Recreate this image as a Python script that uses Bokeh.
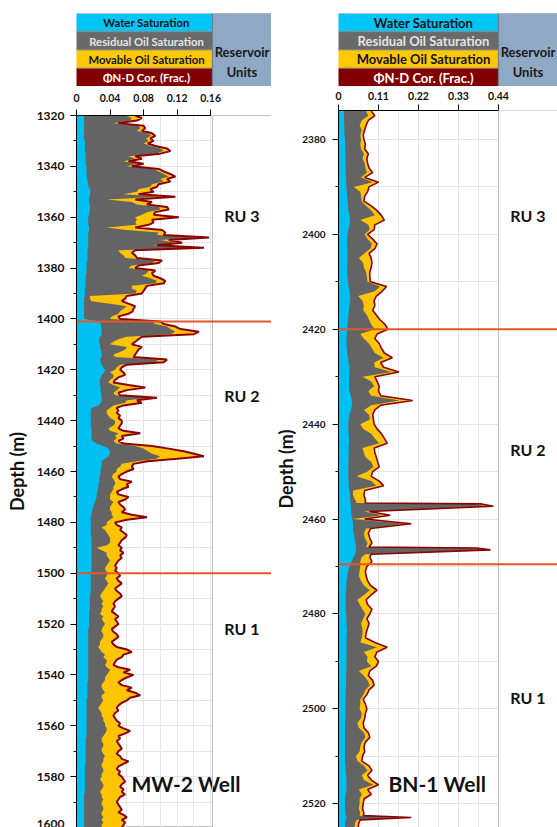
from bokeh.plotting import figure
from bokeh.models import Range1d, FixedTicker, NumeralTickFormatter, Span, BoxAnnotation
from bokeh.layouts import row, column
from bokeh.embed import file_html
from bokeh.resources import INLINE
from bokeh.core.properties import value

FONT = "Lato"

# ---------------- MW-2 well (1 m sampling) ----------------
mw2_depth = list(range(1320, 1601))
mw2_phi = [
    0.070, 0.078, 0.072, 0.050, 0.080, 0.082, 0.078, 0.090, 0.094, 0.088,  # 1320
    0.092, 0.085, 0.094, 0.108, 0.112, 0.100, 0.070, 0.078, 0.062, 0.080,  # 1330
    0.066, 0.098, 0.104, 0.112, 0.118, 0.108, 0.112, 0.098, 0.096, 0.088,  # 1340
    0.092, 0.074, 0.118, 0.070, 0.090, 0.084, 0.108, 0.110, 0.094, 0.092,  # 1350
    0.122, 0.090, 0.092, 0.086, 0.070, 0.102, 0.106, 0.104, 0.158, 0.110,  # 1360
    0.126, 0.096, 0.152, 0.070, 0.066, 0.070, 0.072, 0.102, 0.098, 0.074,  # 1370
    0.070, 0.094, 0.090, 0.092, 0.100, 0.106, 0.104, 0.084, 0.082, 0.080,  # 1380
    0.078, 0.060, 0.058, 0.054, 0.062, 0.070, 0.068, 0.067, 0.062, 0.050,  # 1390
    0.052, 0.100, 0.104, 0.118, 0.124, 0.146, 0.140, 0.078, 0.074, 0.070,  # 1400
    0.066, 0.078, 0.074, 0.072, 0.070, 0.068, 0.108, 0.104, 0.060, 0.054,  # 1410
    0.052, 0.056, 0.058, 0.050, 0.046, 0.044, 0.062, 0.082, 0.060, 0.050,  # 1420
    0.052, 0.096, 0.072, 0.078, 0.056, 0.048, 0.050, 0.048, 0.052, 0.050,  # 1430
    0.054, 0.054, 0.052, 0.050, 0.056, 0.076, 0.054, 0.056, 0.050, 0.056,  # 1440
    0.090, 0.110, 0.128, 0.140, 0.152, 0.120, 0.085, 0.068, 0.066, 0.068,  # 1450
    0.060, 0.054, 0.050, 0.052, 0.066, 0.060, 0.062, 0.054, 0.048, 0.050,  # 1460
    0.062, 0.058, 0.050, 0.052, 0.056, 0.058, 0.054, 0.066, 0.084, 0.060,  # 1470
    0.046, 0.048, 0.054, 0.052, 0.056, 0.060, 0.058, 0.054, 0.052, 0.050,  # 1480
    0.054, 0.052, 0.056, 0.052, 0.054, 0.050, 0.048, 0.046, 0.048, 0.046,  # 1490
    0.050, 0.052, 0.048, 0.050, 0.054, 0.050, 0.046, 0.048, 0.052, 0.054,  # 1500
    0.050, 0.046, 0.044, 0.046, 0.044, 0.042, 0.046, 0.050, 0.046, 0.048,  # 1510
    0.050, 0.046, 0.042, 0.044, 0.048, 0.050, 0.046, 0.042, 0.044, 0.048,  # 1520
    0.060, 0.066, 0.056, 0.054, 0.048, 0.046, 0.044, 0.050, 0.064, 0.056,  # 1530
    0.068, 0.060, 0.054, 0.050, 0.054, 0.066, 0.060, 0.070, 0.076, 0.064,  # 1540
    0.060, 0.054, 0.050, 0.048, 0.050, 0.046, 0.044, 0.046, 0.048, 0.052,  # 1550
    0.050, 0.056, 0.064, 0.058, 0.050, 0.052, 0.048, 0.050, 0.052, 0.054,  # 1560
    0.050, 0.048, 0.052, 0.054, 0.062, 0.056, 0.050, 0.048, 0.052, 0.050,  # 1570
    0.054, 0.056, 0.058, 0.054, 0.052, 0.056, 0.054, 0.058, 0.052, 0.050,  # 1580
    0.048, 0.050, 0.052, 0.054, 0.050, 0.056, 0.060, 0.054, 0.058, 0.056,  # 1590
    0.054,                                                                  # 1600
]
mw2_ror = [
    0.058, 0.066, 0.064, 0.044, 0.074, 0.076, 0.072, 0.085, 0.089, 0.083,  # 1320
    0.086, 0.080, 0.088, 0.100, 0.104, 0.094, 0.062, 0.070, 0.056, 0.072,  # 1330
    0.060, 0.092, 0.098, 0.104, 0.110, 0.100, 0.104, 0.090, 0.088, 0.074,  # 1340
    0.072, 0.056, 0.100, 0.036, 0.066, 0.072, 0.098, 0.100, 0.084, 0.078,  # 1350
    0.070, 0.072, 0.070, 0.072, 0.036, 0.060, 0.098, 0.096, 0.150, 0.100,  # 1360
    0.118, 0.090, 0.144, 0.050, 0.052, 0.056, 0.058, 0.094, 0.090, 0.066,  # 1370
    0.062, 0.086, 0.084, 0.078, 0.088, 0.096, 0.094, 0.066, 0.066, 0.072,  # 1380
    0.070, 0.016, 0.016, 0.018, 0.040, 0.060, 0.056, 0.052, 0.050, 0.042,  # 1390
    0.040, 0.090, 0.094, 0.108, 0.112, 0.118, 0.112, 0.060, 0.050, 0.044,  # 1400
    0.040, 0.060, 0.058, 0.052, 0.044, 0.046, 0.098, 0.094, 0.052, 0.048,  # 1410
    0.046, 0.040, 0.044, 0.044, 0.040, 0.038, 0.044, 0.052, 0.048, 0.044,  # 1420
    0.046, 0.090, 0.060, 0.058, 0.044, 0.040, 0.036, 0.036, 0.038, 0.040,  # 1430
    0.046, 0.046, 0.044, 0.038, 0.040, 0.050, 0.046, 0.048, 0.044, 0.048,  # 1440
    0.070, 0.080, 0.085, 0.090, 0.100, 0.095, 0.072, 0.054, 0.052, 0.048,  # 1450
    0.048, 0.044, 0.042, 0.044, 0.046, 0.046, 0.044, 0.044, 0.042, 0.040,  # 1460
    0.040, 0.040, 0.044, 0.042, 0.040, 0.040, 0.042, 0.042, 0.044, 0.040,  # 1470
    0.036, 0.036, 0.030, 0.034, 0.036, 0.038, 0.040, 0.040, 0.040, 0.036,  # 1480
    0.024, 0.030, 0.036, 0.036, 0.038, 0.040, 0.038, 0.036, 0.034, 0.035,  # 1490
    0.038, 0.036, 0.034, 0.036, 0.038, 0.036, 0.034, 0.032, 0.030, 0.028,  # 1500
    0.030, 0.032, 0.030, 0.032, 0.030, 0.030, 0.028, 0.032, 0.030, 0.032,  # 1510
    0.034, 0.032, 0.030, 0.030, 0.032, 0.032, 0.030, 0.028, 0.028, 0.026,  # 1520
    0.028, 0.030, 0.034, 0.032, 0.036, 0.036, 0.034, 0.036, 0.040, 0.038,  # 1530
    0.036, 0.034, 0.034, 0.032, 0.030, 0.030, 0.032, 0.034, 0.030, 0.030,  # 1540
    0.032, 0.030, 0.028, 0.026, 0.028, 0.030, 0.030, 0.032, 0.032, 0.034,  # 1550
    0.034, 0.036, 0.036, 0.034, 0.032, 0.030, 0.030, 0.032, 0.032, 0.030,  # 1560
    0.030, 0.032, 0.034, 0.032, 0.032, 0.030, 0.030, 0.032, 0.032, 0.030,  # 1570
    0.030, 0.028, 0.030, 0.032, 0.032, 0.030, 0.028, 0.030, 0.030, 0.032,  # 1580
    0.030, 0.030, 0.032, 0.032, 0.030, 0.030, 0.032, 0.030, 0.032, 0.030,  # 1590
    0.030,                                                                  # 1600
]
mw2_bvw = [
    0.009, 0.009, 0.009, 0.009, 0.009, 0.009, 0.009, 0.009, 0.009, 0.009,  # 1320
    0.010, 0.010, 0.010, 0.010, 0.010, 0.011, 0.011, 0.011, 0.011, 0.011,  # 1330
    0.012, 0.012, 0.012, 0.012, 0.012, 0.013, 0.013, 0.014, 0.014, 0.016,  # 1340
    0.017, 0.016, 0.016, 0.015, 0.015, 0.016, 0.016, 0.016, 0.015, 0.015,  # 1350
    0.014, 0.014, 0.014, 0.014, 0.015, 0.015, 0.014, 0.014, 0.014, 0.014,  # 1360
    0.014, 0.014, 0.014, 0.013, 0.013, 0.013, 0.013, 0.013, 0.012, 0.012,  # 1370
    0.012, 0.012, 0.012, 0.011, 0.011, 0.011, 0.011, 0.011, 0.010, 0.010,  # 1380
    0.010, 0.010, 0.009, 0.009, 0.009, 0.009, 0.009, 0.009, 0.009, 0.009,  # 1390
    0.009, 0.028, 0.029, 0.029, 0.030, 0.030, 0.030, 0.028, 0.027, 0.027,  # 1400
    0.028, 0.028, 0.029, 0.030, 0.030, 0.030, 0.028, 0.029, 0.030, 0.032,  # 1410
    0.034, 0.033, 0.030, 0.029, 0.028, 0.028, 0.028, 0.029, 0.029, 0.029,  # 1420
    0.030, 0.030, 0.030, 0.029, 0.026, 0.018, 0.017, 0.017, 0.017, 0.017,  # 1430
    0.017, 0.017, 0.017, 0.018, 0.018, 0.018, 0.018, 0.018, 0.019, 0.024,  # 1440
    0.032, 0.038, 0.040, 0.040, 0.038, 0.034, 0.030, 0.030, 0.030, 0.029,  # 1450
    0.029, 0.028, 0.028, 0.027, 0.027, 0.026, 0.026, 0.025, 0.025, 0.024,  # 1460
    0.024, 0.023, 0.022, 0.021, 0.020, 0.019, 0.018, 0.018, 0.017, 0.017,  # 1470
    0.017, 0.017, 0.017, 0.017, 0.017, 0.017, 0.018, 0.018, 0.018, 0.018,  # 1480
    0.018, 0.018, 0.018, 0.018, 0.018, 0.018, 0.018, 0.018, 0.018, 0.018,  # 1490
    0.017, 0.017, 0.017, 0.017, 0.017, 0.017, 0.017, 0.017, 0.017, 0.016,  # 1500
    0.016, 0.016, 0.016, 0.016, 0.016, 0.015, 0.015, 0.015, 0.015, 0.015,  # 1510
    0.015, 0.015, 0.014, 0.014, 0.014, 0.014, 0.014, 0.014, 0.014, 0.014,  # 1520
    0.014, 0.014, 0.014, 0.014, 0.014, 0.014, 0.014, 0.014, 0.014, 0.014,  # 1530
    0.014, 0.014, 0.014, 0.013, 0.013, 0.013, 0.013, 0.013, 0.013, 0.013,  # 1540
    0.012, 0.012, 0.012, 0.012, 0.012, 0.012, 0.012, 0.012, 0.012, 0.012,  # 1550
    0.012, 0.012, 0.012, 0.012, 0.012, 0.011, 0.011, 0.011, 0.011, 0.011,  # 1560
    0.011, 0.011, 0.011, 0.011, 0.011, 0.011, 0.010, 0.010, 0.010, 0.010,  # 1570
    0.010, 0.010, 0.010, 0.010, 0.010, 0.010, 0.010, 0.009, 0.009, 0.009,  # 1580
    0.009, 0.009, 0.009, 0.009, 0.009, 0.009, 0.009, 0.009, 0.009, 0.009,  # 1590
    0.009,                                                                  # 1600
]

# ---------------- BN-1 well ----------------
bn1_depth = [
    2374, 2375, 2376, 2377, 2378, 2379, 2380, 2381, 2382, 2383,
    2384, 2385, 2386, 2387, 2388, 2389, 2390, 2391, 2392, 2393,
    2394, 2395, 2396, 2397, 2398, 2399, 2400, 2401, 2402, 2403,
    2404, 2405, 2406, 2407, 2408, 2409, 2410, 2411, 2412, 2413,
    2414, 2415, 2416, 2417, 2418, 2419, 2420, 2421, 2422, 2423,
    2424, 2425, 2426, 2427, 2428, 2429, 2430, 2431, 2432, 2433,
    2434, 2435, 2436, 2437, 2438, 2439, 2440, 2441, 2442, 2443,
    2444, 2445, 2446, 2447, 2448, 2449, 2450, 2451, 2452, 2453,
    2454, 2455, 2456, 2456.6, 2456.8, 2457.3, 2458.4, 2459.2, 2460, 2461,
    2462, 2463, 2464, 2465, 2465.9, 2466.1, 2466.5, 2467.4, 2468, 2469,
    2470, 2471, 2472, 2473, 2474, 2475, 2476, 2477, 2478, 2479,
    2480, 2481, 2482, 2483, 2484, 2485, 2486, 2487, 2488, 2489,
    2490, 2491, 2492, 2493, 2494, 2495, 2496, 2497, 2498, 2499,
    2500, 2501, 2502, 2503, 2504, 2505, 2506, 2507, 2508, 2509,
    2510, 2511, 2512, 2513, 2514, 2515, 2516, 2517, 2518, 2519,
    2520, 2521, 2522, 2522.5, 2522.9, 2523.4, 2524, 2525,
]
bn1_phi = [
    0.090, 0.100, 0.082, 0.076, 0.072, 0.068, 0.070, 0.074, 0.072, 0.082,
    0.078, 0.080, 0.084, 0.094, 0.072, 0.110, 0.084, 0.080, 0.072, 0.070,
    0.090, 0.106, 0.118, 0.126, 0.100, 0.098, 0.080, 0.094, 0.106, 0.100,
    0.084, 0.090, 0.092, 0.090, 0.086, 0.086, 0.088, 0.132, 0.120, 0.104,
    0.098, 0.100, 0.094, 0.104, 0.114, 0.128, 0.136, 0.106, 0.100, 0.112,
    0.118, 0.126, 0.148, 0.116, 0.124, 0.166, 0.100, 0.106, 0.112, 0.110,
    0.116, 0.204, 0.116, 0.100, 0.094, 0.096, 0.098, 0.106, 0.118, 0.126,
    0.134, 0.098, 0.100, 0.104, 0.108, 0.112, 0.094, 0.090, 0.112, 0.124,
    0.072, 0.070, 0.074, 0.074, 0.390, 0.426, 0.085, 0.142, 0.072, 0.200,
    0.088, 0.082, 0.086, 0.092, 0.084, 0.380, 0.418, 0.090, 0.086, 0.092,
    0.078, 0.074, 0.076, 0.080, 0.088, 0.106, 0.090, 0.076, 0.080, 0.092,
    0.086, 0.078, 0.084, 0.080, 0.076, 0.074, 0.100, 0.134, 0.106, 0.100,
    0.110, 0.104, 0.086, 0.082, 0.094, 0.098, 0.084, 0.078, 0.068, 0.074,
    0.078, 0.074, 0.072, 0.068, 0.070, 0.082, 0.086, 0.074, 0.070, 0.072,
    0.066, 0.064, 0.084, 0.092, 0.080, 0.090, 0.110, 0.080, 0.090, 0.070,
    0.068, 0.066, 0.070, 0.068, 0.200, 0.060, 0.056, 0.054,
]
bn1_ror = [
    0.076, 0.082, 0.064, 0.058, 0.064, 0.060, 0.062, 0.060, 0.062, 0.070,
    0.066, 0.072, 0.074, 0.078, 0.062, 0.094, 0.042, 0.060, 0.062, 0.064,
    0.076, 0.090, 0.100, 0.060, 0.082, 0.086, 0.072, 0.080, 0.092, 0.088,
    0.072, 0.056, 0.068, 0.070, 0.076, 0.078, 0.080, 0.114, 0.100, 0.054,
    0.066, 0.070, 0.068, 0.078, 0.084, 0.090, 0.100, 0.060, 0.070, 0.084,
    0.092, 0.100, 0.124, 0.098, 0.100, 0.146, 0.066, 0.090, 0.098, 0.082,
    0.090, 0.168, 0.090, 0.070, 0.084, 0.086, 0.060, 0.068, 0.090, 0.100,
    0.112, 0.066, 0.070, 0.074, 0.090, 0.096, 0.080, 0.050, 0.090, 0.104,
    0.040, 0.040, 0.046, 0.050, 0.375, 0.405, 0.070, 0.120, 0.040, 0.180,
    0.076, 0.070, 0.072, 0.080, 0.076, 0.365, 0.400, 0.074, 0.064, 0.060,
    0.060, 0.058, 0.056, 0.062, 0.070, 0.086, 0.070, 0.052, 0.058, 0.066,
    0.074, 0.068, 0.062, 0.066, 0.066, 0.064, 0.060, 0.106, 0.070, 0.080,
    0.078, 0.090, 0.056, 0.070, 0.080, 0.086, 0.074, 0.068, 0.060, 0.060,
    0.058, 0.064, 0.062, 0.052, 0.056, 0.070, 0.074, 0.064, 0.060, 0.058,
    0.048, 0.052, 0.070, 0.080, 0.064, 0.070, 0.096, 0.056, 0.064, 0.058,
    0.058, 0.056, 0.060, 0.058, 0.190, 0.050, 0.046, 0.044,
]
bn1_bvw = [
    0.015, 0.015, 0.015, 0.016, 0.016, 0.016, 0.018, 0.018, 0.019, 0.019,
    0.019, 0.020, 0.020, 0.020, 0.021, 0.021, 0.022, 0.023, 0.024, 0.025,
    0.026, 0.027, 0.030, 0.032, 0.030, 0.027, 0.025, 0.024, 0.024, 0.024,
    0.025, 0.025, 0.025, 0.024, 0.024, 0.025, 0.026, 0.028, 0.030, 0.032,
    0.032, 0.030, 0.029, 0.027, 0.026, 0.025, 0.024, 0.023, 0.022, 0.022,
    0.023, 0.024, 0.026, 0.028, 0.030, 0.030, 0.030, 0.029, 0.029, 0.030,
    0.034, 0.037, 0.037, 0.034, 0.030, 0.028, 0.027, 0.027, 0.028, 0.029,
    0.029, 0.028, 0.028, 0.028, 0.027, 0.027, 0.027, 0.027, 0.028, 0.028,
    0.030, 0.032, 0.032, 0.033, 0.034, 0.034, 0.035, 0.036, 0.038, 0.040,
    0.040, 0.042, 0.044, 0.046, 0.048, 0.048, 0.048, 0.046, 0.042, 0.036,
    0.030, 0.026, 0.024, 0.022, 0.022, 0.021, 0.020, 0.020, 0.020, 0.020,
    0.021, 0.022, 0.022, 0.023, 0.023, 0.022, 0.022, 0.022, 0.022, 0.022,
    0.022, 0.022, 0.021, 0.021, 0.021, 0.021, 0.020, 0.020, 0.020, 0.019,
    0.019, 0.019, 0.019, 0.018, 0.018, 0.018, 0.018, 0.018, 0.018, 0.018,
    0.018, 0.018, 0.019, 0.020, 0.021, 0.022, 0.022, 0.022, 0.020, 0.018,
    0.018, 0.018, 0.020, 0.020, 0.024, 0.020, 0.018, 0.018,
]

# axis ticks / labels
mw2_xticks = [0, 0.04, 0.08, 0.12, 0.16]
mw2_xminor = [0.02, 0.06, 0.10, 0.14]
mw2_yticks = [1320, 1340, 1360, 1380, 1400, 1420, 1440, 1460, 1480, 1500, 1520, 1540, 1560, 1580, 1600]
mw2_yminor = [1330, 1350, 1370, 1390, 1410, 1430, 1450, 1470, 1490, 1510, 1530, 1550, 1570, 1590]
bn1_xticks = [0, 0.11, 0.22, 0.33, 0.44]
bn1_xminor = [0.055, 0.165, 0.275, 0.385]
bn1_yticks = [2380, 2400, 2420, 2440, 2460, 2480, 2500, 2520]
bn1_yminor = [2390, 2410, 2430, 2450, 2470, 2490, 2510]

# reservoir units
ru_names = ["RU 3", "RU 2", "RU 1"]
mw2_ru_label_depth = [1359.3, 1430.0, 1521.7]
mw2_ru_tops = [1401, 1500]
bn1_ru_label_depth = [2396.1, 2445.4, 2497.7]
bn1_ru_tops = [2420, 2469.5]

header_labels = ["Water Saturation", "Residual Oil Saturation", "Movable Oil Saturation", "ΦN-D Cor. (Frac.)"]

C_WATER = "#00BFF3"
C_RES = "#646464"
C_MOV = "#FFC400"
C_PHI = "#8B0000"
C_HDR = ["#00C6F8", "#6A6A6A", "#FFC800", "#820000"]
C_HDR_TXT = ["#111111", "#E4E4E4", "#111111", "#FFFFFF"]
C_RU_BOX = "#8FA9C4"
C_RU_EDGE = "#6C7F93"
C_RU_LINE = "#E2582A"
C_GRID = "#E4E4E4"


def well(depth, phi, ror, bvw, cfg):
    track_max = cfg["track_max"]
    x_end = track_max + cfg["ru_w"]
    xs = cfg["x_scale"]
    d_top, d_bot = cfg["d_top"], cfg["d_bot"]
    ys = cfg["y_scale"]
    W = cfg["width"]

    # ---------- header ----------
    hdr = figure(width=W, height=86, min_border_left=cfg["left"],
                 min_border_right=0, min_border_top=13, min_border_bottom=0,
                 x_range=Range1d(0, x_end), y_range=Range1d(4, 0),
                 x_axis_type=None, y_axis_type=None, toolbar_location=None,
                 output_backend="svg", outline_line_color=None,
                 background_fill_color="white", border_fill_color="white")
    hdr.quad(left=[-0.01] * 4, right=[track_max] * 4, top=[0, 1, 2, 3], bottom=[1, 2, 3, 4],
             fill_color=C_HDR, line_color="#8A8A8A", line_width=0.8)
    hdr.quad(left=[track_max], right=[x_end + cfg["ru_extra"]], top=[0], bottom=[5],
             fill_color=C_RU_BOX, line_color=C_RU_EDGE, line_width=1.2)
    tx = track_max / 2 + cfg["hdr_dx"] / xs
    hdr.text(x=[tx] * 4, y=[0.52, 1.52, 2.52, 3.52], text=header_labels, text_color=C_HDR_TXT,
             text_font=value(FONT), text_font_style="bold", text_font_size=cfg["hdr_font"],
             text_align="center", text_baseline="middle")
    rx = track_max + cfg["ru_w"] / 2
    hdr.text(x=[rx, rx], y=[2.1, 3.2], text=["Reservoir", "Units"], text_color="#1A1A1A",
             text_font=value(FONT), text_font_style="bold", text_font_size="13px",
             text_align="center", text_baseline="middle")

    # ---------- main track ----------
    p = figure(width=W, height=741, min_border_left=cfg["left"], min_border_right=0,
               min_border_top=cfg["top"] - 86, min_border_bottom=0,
               x_range=Range1d(0, x_end), y_range=Range1d(d_bot, d_top),
               x_axis_location="above", toolbar_location=None, output_backend="svg",
               background_fill_color="white", border_fill_color="white",
               outline_line_color=cfg["outline"])

    # keep the reservoir-unit column free of grid lines
    p.quad(left=[track_max], right=[x_end + 1], top=[d_top - 5], bottom=[d_bot + 5],
           fill_color="white", line_color=None)

    zeros = [0.0] * len(depth)
    p.harea(x1=zeros, x2=phi, y=depth, fill_color=C_MOV)
    p.harea(x1=zeros, x2=ror, y=depth, fill_color=C_RES)
    p.harea(x1=zeros, x2=bvw, y=depth, fill_color=C_WATER)
    p.line(x=phi, y=depth, line_color=C_PHI, line_width=cfg["phi_w"])

    # axes
    xa = p.xaxis[0]
    xa.ticker = FixedTicker(ticks=cfg["xticks"], minor_ticks=cfg["xminor"])
    xa.formatter = NumeralTickFormatter(format="0.[00]")
    xa.bounds = (0, cfg["xticks"][-1])
    xa.major_tick_in = 0
    xa.major_tick_out = 6
    xa.minor_tick_line_color = None
    xa.major_label_text_font = FONT
    xa.major_label_text_font_style = "bold"
    xa.major_label_text_font_size = cfg["xfont"]
    xa.major_label_text_color = "#111111"
    xa.major_label_standoff = cfg["xstand"]
    xa.axis_line_color = "black"
    xa.major_tick_line_color = "black"

    ya = p.yaxis[0]
    ya.ticker = FixedTicker(ticks=cfg["yticks"], minor_ticks=cfg["yminor"])
    ya.major_tick_in = 0
    ya.major_tick_out = 6
    ya.minor_tick_in = 0
    ya.minor_tick_out = 3
    ya.major_label_text_font = FONT
    ya.major_label_text_font_style = "bold"
    ya.major_label_text_font_size = cfg["yfont"]
    ya.major_label_text_color = "#111111"
    ya.major_label_standoff = cfg["ystand"]
    ya.axis_label = "Depth (m)"
    ya.axis_label_text_font = FONT
    ya.axis_label_text_font_style = "bold"
    ya.axis_label_text_font_size = cfg["lfont"]
    ya.axis_label_text_color = "#111111"
    ya.axis_label_standoff = cfg["lstand"]
    ya.axis_line_color = "black"

    p.xgrid.grid_line_color = C_GRID
    p.xgrid.minor_grid_line_color = C_GRID
    p.ygrid.grid_line_color = C_GRID
    p.ygrid.minor_grid_line_color = C_GRID

    # RU header box continuation above frame
    p.add_layout(BoxAnnotation(left=track_max, right=x_end + cfg["ru_extra"],
                               top=d_top - (cfg["top"] - 86 + 3) / ys, bottom=d_top,
                               fill_color=C_RU_BOX, fill_alpha=1.0,
                               line_color=C_RU_EDGE, line_width=1.2))

    p.add_layout(Span(location=track_max, dimension="height", line_color="#BDBDBD", line_width=1))
    for d in cfg["ru_tops"]:
        p.add_layout(Span(location=d, dimension="width", line_color=C_RU_LINE, line_width=2))

    p.text(x=[rx] * 3, y=cfg["ru_label_depth"], text=ru_names, text_color="#111111",
           text_font=value(FONT), text_font_style="bold", text_font_size="16px",
           text_align="center", text_baseline="middle")
    p.text(x=[cfg["name_x"]], y=[cfg["name_y"]], text=[cfg["name"]], text_color="#111111",
           text_font=value(FONT), text_font_style="bold", text_font_size="21px",
           text_align="left", text_baseline="middle")
    return column(hdr, p, spacing=0)


left = well(mw2_depth, mw2_phi, mw2_ror, mw2_bvw, dict(
    track_max=0.1622, ru_w=0.0704, x_scale=838.5, d_top=1320, d_bot=1600, y_scale=712 / 280,
    width=271, left=76, top=115, hdr_dx=2, ru_extra=0.0, outline="#BDBDBD", phi_w=2.0,
    hdr_font="11.3px", xfont="10.5px", xstand=8, yfont="12px", ystand=6, lfont="18px", lstand=6,
    xticks=mw2_xticks, xminor=mw2_xminor, yticks=mw2_yticks, yminor=mw2_yminor,
    ru_tops=mw2_ru_tops, ru_label_depth=mw2_ru_label_depth,
    name="MW-2 Well", name_x=(131 - 76) / 838.5, name_y=1582.7))

right = well(bn1_depth, bn1_phi, bn1_ror, bn1_bvw, dict(
    track_max=0.44, ru_w=0.1623, x_scale=363.6, d_top=2373.9, d_bot=2525.0, y_scale=717 / 151.1,
    width=286, left=67, top=110, hdr_dx=5, ru_extra=0.05, outline=None, phi_w=1.6,
    hdr_font="13px", xfont="10.5px", xstand=5, yfont="10px", ystand=7, lfont="18px", lstand=2,
    xticks=bn1_xticks, xminor=bn1_xminor, yticks=bn1_yticks, yminor=bn1_yminor,
    ru_tops=bn1_ru_tops, ru_label_depth=bn1_ru_label_depth,
    name="BN-1 Well", name_x=(388 - 338) / 363.6, name_y=2515.7))

layout = row(left, right, spacing=0)
open("out.html", "w").write(file_html(layout, INLINE))
